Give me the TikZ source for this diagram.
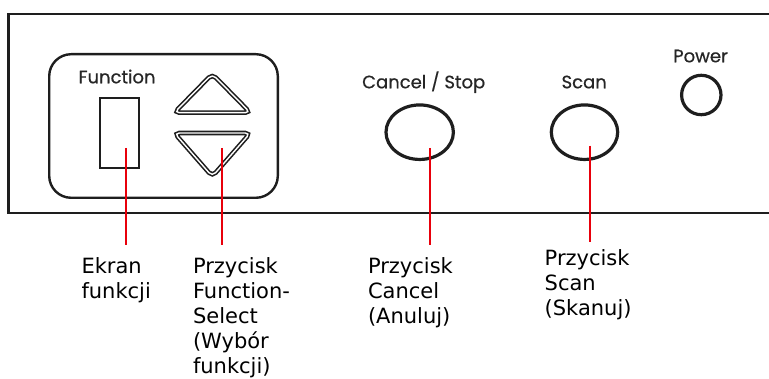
\documentclass[tikz,border=0pt]{standalone}
\usepackage{fontspec}
\setmainfont{DejaVu Sans}
\newfontfamily\panelfont{Poppins}[FakeBold=0.6]
\usetikzlibrary{shapes.geometric}
\definecolor{cdark}{HTML}{1E1E1E}
\definecolor{cprint}{HTML}{262626}
\definecolor{cred}{HTML}{E8000B}
\tikzset{
  every picture/.style={line width=2pt},
  casing/.style={draw=cdark, line width=2.4pt},
  panel/.style={draw=cdark, line width=2.4pt, rounded corners=22pt, minimum width=228.6pt, minimum height=143.6pt},
  display/.style={draw=cdark, line width=1.6pt, minimum width=39.4pt, minimum height=70.4pt},
  arrowkey/.style={draw=cdark, line width=1.6pt, double=white, double distance=1.4pt, rounded corners=5pt},
  button/.style={ellipse, draw=cdark, line width=3.2pt, inner sep=0pt},
  printed/.style={font=\panelfont\fontsize{18}{20}\selectfont, text=cprint, anchor=base, inner sep=0pt},
  calltext/.style={font=\fontsize{21}{24.9}\selectfont, align=left, anchor=north west, inner sep=0pt},
  callout/.style={draw=cred, line width=2pt},
}

\begin{document}
\begin{tikzpicture}[x=1pt, y=-1pt]
  \useasboundingbox (0,0) rectangle (769,379);
  \draw[casing] (769,14) -- (8.3,14) -- (8.3,213) -- (769,213);
  % function keys
  \node[panel] (panel) at (163.5,126) {};
  \node[printed] (fnprint) at (117,83.3) {Function};
  \node[display] (disp) at (119.5,133) {};
  \draw[arrowkey] (212.3,74) -- (250.3,112.7) -- (174.3,112.7) -- cycle;
  \draw[arrowkey] (174.3,133) -- (250.3,133) -- (212.3,176.5) -- cycle;
  % buttons
  \node[printed] (stopprint) at (423.7,88.3) {Cancel / Stop};
  \node[button, minimum width=67.4pt, minimum height=54.5pt] (stop) at (419.7,132.2) {};
  \node[printed] (scanprint) at (584.2,88.3) {Scan};
  \node[button, minimum width=66.4pt, minimum height=54.5pt] (scan) at (584.5,132.2) {};
  \node[printed] (powerprint) at (700.5,62.3) {Power};
  \node[button, minimum width=39.4pt, minimum height=39.4pt] (power) at (701.3,95) {};
  % callouts
  \node[calltext] (ekran) at (80.5,257) {Ekran\\funkcji};
  \node[calltext] (select) at (192,257) {Przycisk\\Function-\\Select\\(Wybór\\funkcji)};
  \node[calltext] (cancel) at (367,257) {Przycisk\\Cancel\\(Anuluj)};
  \node[calltext] (scanlab) at (543.7,249) {Przycisk\\Scan\\(Skanuj)};
  \coordinate (ekran-in) at (126,148);   \coordinate (ekran-out) at (126,245);
  \coordinate (select-in) at (222,148);  \coordinate (select-out) at (222,245);
  \coordinate (cancel-in) at (430,148);  \coordinate (cancel-out) at (430,245);
  \coordinate (scan-in) at (590,145.7);  \coordinate (scan-out) at (590,242);
  \foreach \n in {ekran, select, cancel, scan} {\draw[callout] (\n-in) -- (\n-out);}
\end{tikzpicture}
\end{document}
